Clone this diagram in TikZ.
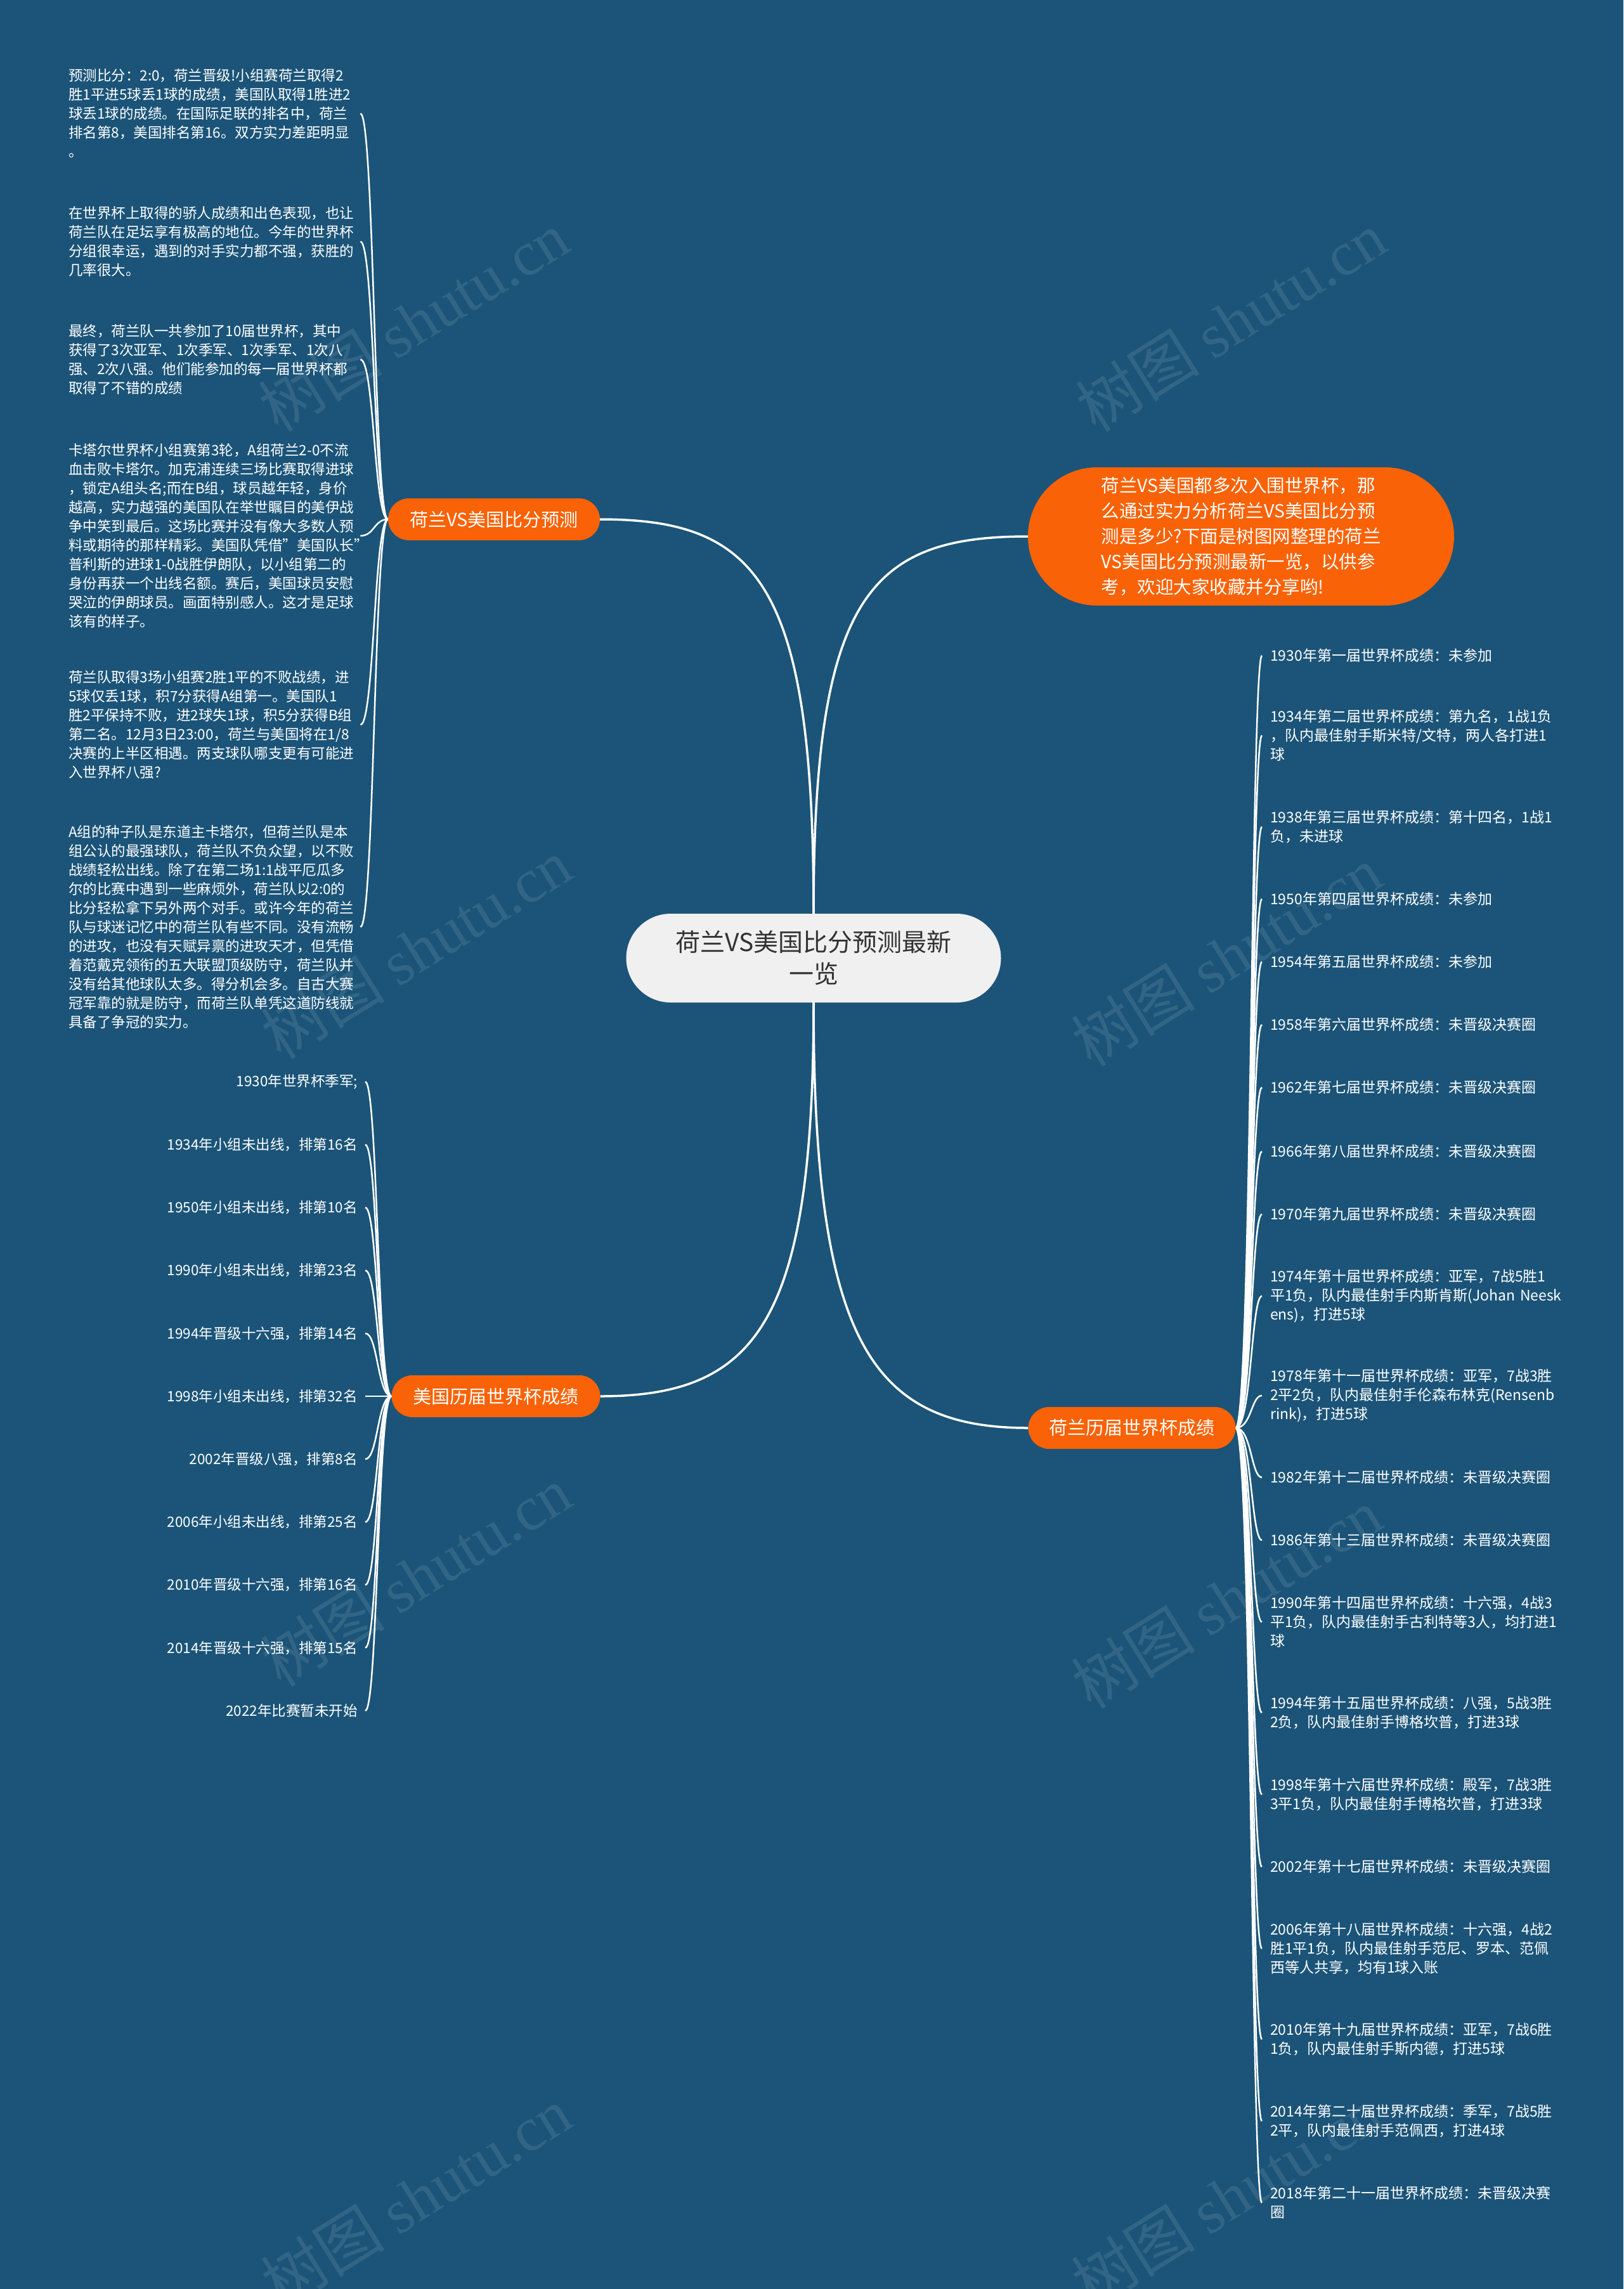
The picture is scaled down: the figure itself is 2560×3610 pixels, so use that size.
\documentclass[tikz,border=0pt]{standalone}
\usepackage{fontspec}
\setmainfont{Noto Sans CJK SC}
\newfontfamily\wmfont{Liberation Serif}
\usetikzlibrary{backgrounds}
\definecolor{bg}{HTML}{1B5478}
\definecolor{org}{HTML}{F96206}
\definecolor{ctr}{HTML}{F0F0F0}
\definecolor{ctrtext}{HTML}{333333}
\tikzset{
  link/.style={white, line width=3.5pt},
  sublink/.style={white, line width=2.5pt},
  centerbox/.style={fill=ctr, text=ctrtext, rounded corners=70pt, minimum width=591pt, minimum height=140pt, inner sep=0pt, align=center, font=\fontsize{39}{50}\selectfont},
  topic/.style={fill=org, text=white, rounded corners=33pt, minimum height=66pt, inner sep=0pt, font=\fontsize{29}{36}\selectfont},
  intro/.style={fill=org, text=white, rounded corners=109pt, minimum width=672pt, minimum height=218pt, inner sep=0pt, align=left, font=\fontsize{28.5}{40}\selectfont},
  para/.style={anchor=west, text=white, text width=455pt, inner xsep=5pt, inner ysep=0pt, align=left, font=\fontsize{22.5}{30}\selectfont},
  ulist/.style={anchor=east, text=white, inner xsep=12pt, inner ysep=0pt, font=\fontsize{22.5}{30}\selectfont},
  hlist/.style={anchor=west, text=white, text width=480pt, inner xsep=13pt, inner ysep=0pt, align=left, font=\fontsize{23}{30}\selectfont},
  wm/.style={text=white, opacity=0.1, rotate=32, font=\fontsize{98}{98}\selectfont}
}
\begin{document}
\begin{tikzpicture}[x=1pt,y=-1pt]
\useasboundingbox (0,0) rectangle (2560,3610);

\node[centerbox] (c) at (1283,1511) {荷兰VS美国比分预测最新\\一览};
\node[topic, minimum width=334pt] (t1) at (779,819) {荷兰VS美国比分预测};
\node[topic, minimum width=329pt] (t2) at (782,2202) {美国历届世界杯成绩};
\node[topic, minimum width=327pt] (t3) at (1785,2252) {荷兰历届世界杯成绩};
\node[intro] (t0) at (1957,846) {荷兰VS美国都多次入围世界杯，那\\么通过实力分析荷兰VS美国比分预\\测是多少?下面是树图网整理的荷兰\\VS美国比分预测最新一览，以供参\\考，欢迎大家收藏并分享哟!};

% left paragraphs
\node[para] (p1) at (103,179) {预测比分：2:0，荷兰晋级!小组赛荷兰取得2\\胜1平进5球丢1球的成绩，美国队取得1胜进2\\球丢1球的成绩。在国际足联的排名中，荷兰\\排名第8，美国排名第16。双方实力差距明显\\。};
\node[para] (p2) at (103,381) {在世界杯上取得的骄人成绩和出色表现，也让\\荷兰队在足坛享有极高的地位。今年的世界杯\\分组很幸运，遇到的对手实力都不强，获胜的\\几率很大。};
\node[para] (p3) at (103,567) {最终，荷兰队一共参加了10届世界杯，其中\\获得了3次亚军、1次季军、1次季军、1次八\\强、2次八强。他们能参加的每一届世界杯都\\取得了不错的成绩};
\node[para] (p4) at (103,845) {卡塔尔世界杯小组赛第3轮，A组荷兰2-0不流\\血击败卡塔尔。加克浦连续三场比赛取得进球\\，锁定A组头名;而在B组，球员越年轻，身价\\越高，实力越强的美国队在举世瞩目的美伊战\\争中笑到最后。这场比赛并没有像大多数人预\\料或期待的那样精彩。美国队凭借"美国队长"\\普利斯的进球1-0战胜伊朗队，以小组第二的\\身份再获一个出线名额。赛后，美国球员安慰\\哭泣的伊朗球员。画面特别感人。这才是足球\\该有的样子。};
\node[para] (p5) at (103,1143) {荷兰队取得3场小组赛2胜1平的不败战绩，进\\5球仅丢1球，积7分获得A组第一。美国队1\\胜2平保持不败，进2球失1球，积5分获得B组\\第二名。12月3日23:00，荷兰与美国将在1/8\\决赛的上半区相遇。两支球队哪支更有可能进\\入世界杯八强?};
\node[para] (p6) at (103,1462) {A组的种子队是东道主卡塔尔，但荷兰队是本\\组公认的最强球队，荷兰队不负众望，以不败\\战绩轻松出线。除了在第二场1:1战平厄瓜多\\尔的比赛中遇到一些麻烦外，荷兰队以2:0的\\比分轻松拿下另外两个对手。或许今年的荷兰\\队与球迷记忆中的荷兰队有些不同。没有流畅\\的进攻，也没有天赋异禀的进攻天才，但凭借\\着范戴克领衔的五大联盟顶级防守，荷兰队并\\没有给其他球队太多。得分机会多。自古大赛\\冠军靠的就是防守，而荷兰队单凭这道防线就\\具备了争冠的实力。};

% USA list
\node[ulist] (u1) at (576,1706) {1930年世界杯季军;};
\node[ulist] (u2) at (576,1805.2) {1934年小组未出线，排第16名};
\node[ulist] (u3) at (576,1904.4) {1950年小组未出线，排第10名};
\node[ulist] (u4) at (576,2003.6) {1990年小组未出线，排第23名};
\node[ulist] (u5) at (576,2102.8) {1994年晋级十六强，排第14名};
\node[ulist] (u6) at (576,2202) {1998年小组未出线，排第32名};
\node[ulist] (u7) at (576,2301.2) {2002年晋级八强，排第8名};
\node[ulist] (u8) at (576,2400.4) {2006年小组未出线，排第25名};
\node[ulist] (u9) at (576,2499.6) {2010年晋级十六强，排第16名};
\node[ulist] (u10) at (576,2598.8) {2014年晋级十六强，排第15名};
\node[ulist] (u11) at (576,2698) {2022年比赛暂未开始};

% Netherlands list
\node[hlist] (h1) at (1990,1034) {1930年第一届世界杯成绩：未参加};
\node[hlist] (h2) at (1990,1160) {1934年第二届世界杯成绩：第九名，1战1负\\，队内最佳射手斯米特/文特，两人各打进1\\球};
\node[hlist] (h3) at (1990,1304) {1938年第三届世界杯成绩：第十四名，1战1\\负，未进球};
\node[hlist] (h4) at (1990,1418) {1950年第四届世界杯成绩：未参加};
\node[hlist] (h5) at (1990,1517) {1954年第五届世界杯成绩：未参加};
\node[hlist] (h6) at (1990,1616) {1958年第六届世界杯成绩：未晋级决赛圈};
\node[hlist] (h7) at (1990,1715) {1962年第七届世界杯成绩：未晋级决赛圈};
\node[hlist] (h8) at (1990,1816) {1966年第八届世界杯成绩：未晋级决赛圈};
\node[hlist] (h9) at (1990,1915) {1970年第九届世界杯成绩：未晋级决赛圈};
\node[hlist] (h10) at (1990,2044) {1974年第十届世界杯成绩：亚军，7战5胜1\\平1负，队内最佳射手内斯肯斯(Johan~Neesk\\ens)，打进5球};
\node[hlist] (h11) at (1990,2201) {1978年第十一届世界杯成绩：亚军，7战3胜\\2平2负，队内最佳射手伦森布林克(Rensenb\\rink)，打进5球};
\node[hlist] (h12) at (1990,2330) {1982年第十二届世界杯成绩：未晋级决赛圈};
\node[hlist] (h13) at (1990,2429) {1986年第十三届世界杯成绩：未晋级决赛圈};
\node[hlist] (h14) at (1990,2558) {1990年第十四届世界杯成绩：十六强，4战3\\平1负，队内最佳射手古利特等3人，均打进1\\球};
\node[hlist] (h15) at (1990,2701) {1994年第十五届世界杯成绩：八强，5战3胜\\2负，队内最佳射手博格坎普，打进3球};
\node[hlist] (h16) at (1990,2830) {1998年第十六届世界杯成绩：殿军，7战3胜\\3平1负，队内最佳射手博格坎普，打进3球};
\node[hlist] (h17) at (1990,2944) {2002年第十七届世界杯成绩：未晋级决赛圈};
\node[hlist] (h18) at (1990,3073) {2006年第十八届世界杯成绩：十六强，4战2\\胜1平1负，队内最佳射手范尼、罗本、范佩\\西等人共享，均有1球入账};
\node[hlist] (h19) at (1990,3216) {2010年第十九届世界杯成绩：亚军，7战6胜\\1负，队内最佳射手斯内德，打进5球};
\node[hlist] (h20) at (1990,3345) {2014年第二十届世界杯成绩：季军，7战5胜\\2平，队内最佳射手范佩西，打进4球};
\node[hlist] (h21) at (1990,3474) {2018年第二十一届世界杯成绩：未晋级决赛\\圈};

% watermarks
\foreach \wx/\wy [count=\i] in {652/507, 1941/507, 656/1496, 1934/1508, 656/2486, 1934/2521, 656/3465, 1934/3465}
  \node[wm] (wm\i) at (\wx,\wy) {树图 {\wmfont shutu.cn}};

\begin{scope}[on background layer]
\fill[bg] (0,0) rectangle (2560,3610);
% main connectors
\draw[link] (c.north) .. controls +(0,-520) and +(250,0) .. (t1.east);
\draw[link] (c.north) .. controls +(0,-500) and +(-250,0) .. (t0.west);
\draw[link] (c.south) .. controls +(0,500) and +(250,0) .. (t2.east);
\draw[link] (c.south) .. controls +(0,530) and +(-250,0) .. (t3.west);
% sub connectors
\foreach \n in {p1,p2,p3,p4,p5,p6}
  \draw[sublink] (t1.west) .. controls +(-22,0) and +(22,0) .. (\n.east);
\foreach \n in {u1,u2,u3,u4,u5,u6,u7,u8,u9,u10,u11}
  \draw[sublink] (t2.west) .. controls +(-22,0) and +(20,0) .. (\n.east);
\foreach \n in {h1,h2,h3,h4,h5,h6,h7,h8,h9,h10,h11,h12,h13,h14,h15,h16,h17,h18,h19,h20,h21}
  \draw[sublink] (t3.east) .. controls +(25,0) and +(-17,0) .. (\n.west);
\end{scope}
\end{tikzpicture}
\end{document}
